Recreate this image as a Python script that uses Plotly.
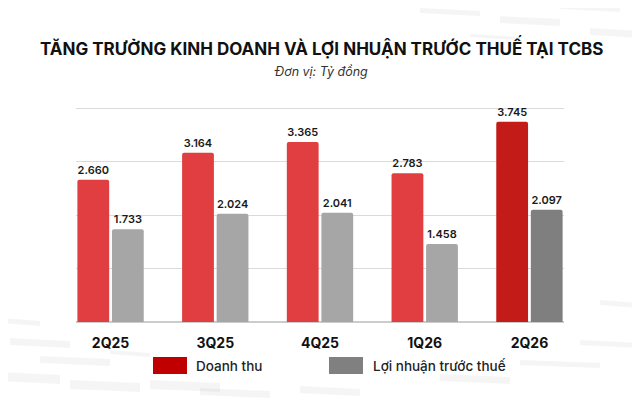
import plotly.graph_objects as go

# data (Tỷ đồng)
quarters = ["2Q25", "3Q25", "4Q25", "1Q26", "2Q26"]
doanh_thu = [2660, 3164, 3365, 2783, 3745]
loi_nhuan = [1733, 2024, 2041, 1458, 2097]

def fmt(v):
    return f"{v:,}".replace(",", ".")

red_cols = ["#E03E40"] * 4 + ["#C21B18"]
gray_cols = ["#A6A6A6"] * 4 + ["#7F7F7F"]

# page body has a default 8px margin, so shift everything back
OX, OY = 8, 8
W, H = 640, 400
L, R, T, B = 76 - OX, W - 564 + OX, 107 - OY, H - 322 + OY

label_font = dict(size=11, color="#1A1A1A", family="Inter", weight=600)

fig = go.Figure()
fig.add_trace(go.Bar(
    x=quarters, y=doanh_thu, name="Doanh thu",
    marker=dict(color=red_cols, line=dict(width=0)),
    text=[fmt(v) for v in doanh_thu], textposition="outside",
    textfont=label_font, cliponaxis=False, showlegend=False,
))
fig.add_trace(go.Bar(
    x=quarters, y=loi_nhuan, name="Lợi nhuận trước thuế",
    marker=dict(color=gray_cols, line=dict(width=0)),
    text=[fmt(v) for v in loi_nhuan], textposition="outside",
    textfont=label_font, cliponaxis=False, showlegend=False,
))

gap = 0.34
fig.update_layout(
    width=W, height=H,
    margin=dict(l=L, r=R, t=T, b=B),
    paper_bgcolor="white", plot_bgcolor="rgba(0,0,0,0)",
    barmode="group", bargap=gap, bargroupgap=0.08, barcornerradius=2,
    font=dict(family="Inter", color="#222222"),
    xaxis=dict(range=[-0.5 + gap / 2, 4.5 - gap / 2], showgrid=False,
               showline=False, ticks="outside", ticklen=4, tickcolor="rgba(0,0,0,0)",
               ticklabelstandoff=4,
               tickfont=dict(size=14, color="#111111", family="Inter", weight="bold")),
    yaxis=dict(range=[0, 4020], dtick=1000, showticklabels=False,
               gridcolor="#DADADA", gridwidth=1, zeroline=True,
               zerolinecolor="#CCCCCC", zerolinewidth=1.5),
)

# convert reference pixel positions to paper coordinates
def px2x(p):
    return (p - OX - L) / (W - L - R)

def py2y(p):
    return (H - B - (p - OY)) / (H - T - B)

# faint background tiles
tiles = [
    (0, 318, 40, 326), (10, 338, 70, 348), (40, 356, 110, 366), (0, 372, 60, 384),
    (70, 380, 140, 392), (110, 350, 150, 357), (150, 380, 220, 392), (200, 388, 270, 398),
    (300, 386, 360, 396), (440, 374, 510, 384), (520, 360, 600, 368), (580, 340, 640, 348),
    (600, 300, 640, 308), (420, 8, 480, 16), (500, 16, 560, 26), (360, 0, 420, 6),
    (560, 4, 620, 12), (590, 28, 640, 38), (470, 34, 520, 40),
]
shapes = []
for x0, y0, x1, y1 in tiles:
    shapes.append(dict(type="path", xref="paper", yref="paper",
                       path=f"M {px2x(x0)},{py2y(y0)} L {px2x(x1)},{py2y(y0 + 3)} "
                            f"L {px2x(x1)},{py2y(y1)} L {px2x(x0)},{py2y(y1 - 3)} Z",
                       fillcolor="rgba(0,0,0,0.04)", line=dict(width=0), layer="below"))

# custom legend with wide swatches
shapes.append(dict(type="rect", xref="paper", yref="paper",
                   x0=px2x(153), x1=px2x(187), y0=py2y(374), y1=py2y(357),
                   fillcolor="#C00000", line=dict(width=0)))
shapes.append(dict(type="rect", xref="paper", yref="paper",
                   x0=px2x(329), x1=px2x(363), y0=py2y(374), y1=py2y(357),
                   fillcolor="#808080", line=dict(width=0)))
fig.update_layout(shapes=shapes)

fig.add_annotation(text="Doanh thu", xref="paper", yref="paper",
                   x=px2x(194), y=py2y(365.5), xanchor="left", yanchor="middle",
                   showarrow=False, font=dict(size=13.5, color="#222222", weight=500))
fig.add_annotation(text="Lợi nhuận trước thuế", xref="paper", yref="paper",
                   x=px2x(371), y=py2y(365.5), xanchor="left", yanchor="middle",
                   showarrow=False, font=dict(size=13.5, color="#222222", weight=500))

fig.add_annotation(text="<b>TĂNG TRƯỞNG KINH DOANH VÀ LỢI NHUẬN TRƯỚC THUẾ TẠI TCBS</b>",
                   xref="paper", yref="paper", x=px2x(321), y=py2y(47),
                   xanchor="center", yanchor="middle", showarrow=False,
                   font=dict(size=17, color="#111111", family="Inter"))
fig.add_annotation(text="<i>Đơn vị: Tỷ đồng</i>",
                   xref="paper", yref="paper", x=px2x(321), y=py2y(71),
                   xanchor="center", yanchor="middle", showarrow=False,
                   font=dict(size=12.5, color="#333333", family="Inter"))

fig.write_html("out.html")
